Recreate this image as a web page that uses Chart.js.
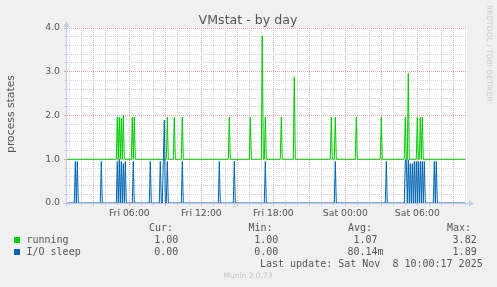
<!DOCTYPE html>
<html>
<head>
<meta charset="utf-8">
<script src="https://cdn.jsdelivr.net/npm/chart.js@4"></script>
<style>
  html, body { margin: 0; padding: 0; background: #f0f0f0; }
  canvas { display: block; }
</style>
</head>
<body>
<canvas id="vmstat" width="497" height="287"></canvas>
<script>
// x = minutes since Fri 00:00 (munin samples every 5 min)
const runningMinutes = [
  50,
  295, 300, 305, 310, 315, 320, 325, 330, 335,
  370, 375, 380, 385, 390,
  545, 550, 555, 580, 585, 590, 620, 625, 630,
  855, 860, 865, 960, 965, 970,
  1020, 1025, 1030, 1035, 1040, 1045,
  1115, 1120, 1125, 1180, 1185, 1190,
  1365, 1370, 1375, 1385, 1390, 1395,
  1490, 1495, 1500, 1615, 1620, 1625,
  1735, 1740, 1745, 1750, 1755, 1760,
  1795, 1800, 1805, 1810, 1815, 1820, 1825, 1830,
  2040
];
const runningValues = [
  1,
  1, 1.96, 1, 1.96, 1, 1.93, 1, 2.0, 1,
  1, 1.96, 1, 1.96, 1,
  1, 1.96, 1, 1, 1.96, 1, 1, 1.96, 1,
  1, 1.96, 1, 1, 1.96, 1,
  1, 3.82, 1, 1, 1.96, 1,
  1, 1.96, 1, 1, 2.88, 1,
  1, 1.96, 1, 1, 1.96, 1,
  1, 1.96, 1, 1, 1.96, 1,
  1, 1.96, 1, 1, 2.96, 1,
  1, 1.96, 1, 1, 1.96, 1, 1.96, 1,
  1
];

const ioMinutes = [
  50,
  85, 90, 95, 100, 105,
  215, 220, 225,
  295, 300, 305, 310, 315, 320, 325, 330, 335, 340, 345,
  375, 380, 385, 460, 465, 470,
  510, 515, 520, 525, 530, 535, 540, 545, 550, 555,
  620, 625, 630, 805, 810, 815, 880, 885, 890,
  1035, 1040, 1045, 1385, 1390, 1395, 1640, 1645, 1650,
  1735, 1740, 1745, 1750, 1755, 1760, 1765, 1770, 1775, 1780,
  1785, 1790, 1795, 1800, 1805, 1810, 1815, 1820, 1825, 1830, 1835, 1840,
  1880, 1885, 1890, 1895, 1900,
  2040
];
const ioValues = [
  0,
  0, 0.95, 0, 0.95, 0,
  0, 0.95, 0,
  0, 0.95, 0, 1.0, 0, 0.95, 0, 0.9, 0, 0.95, 0,
  0, 0.95, 0, 0, 0.95, 0,
  0, 0.95, 0, 0, 0.95, 1.89, 0, 0, 0.95, 0,
  0, 0.95, 0, 0, 0.95, 0, 0, 0.95, 0,
  0, 0.95, 0, 0, 0.95, 0, 0, 0.95, 0,
  0, 0.97, 0.99, 0, 0.99, 0, 0.9, 0, 0.9, 0,
  0.95, 0, 0.95, 0, 0.95, 0, 0.95, 0, 0.95, 0, 0.95, 0,
  0, 0.95, 0, 0.95, 0,
  0
];

const labelMinutes = [360, 720, 1080, 1440, 1800];
const labelTexts = ["Fri 06:00", "Fri 12:00", "Fri 18:00", "Sat 00:00", "Sat 06:00"];

const seriesNames = ["running", "I/O sleep"];
const seriesColors = ["#00cc00", "#0066b3"];
const curValues = ["1.00 ", "0.00 "];
const minValues = ["1.00 ", "0.00 "];
const avgValues = ["1.07 ", "80.14m"];
const maxValues = ["3.82 ", "1.89 "];

const gridMinor = "rgb(214,214,214)";
const gridMajor = "rgb(236,168,168)";
const axisColor = "rgba(185,195,238,0.85)";
const textColor = "#555555";

function toPoints(xs, ys) {
  return xs.map((x, i) => ({ x: x, y: ys[i] }));
}

function isWhole(v) {
  return Math.abs(v - Math.round(v)) < 1e-6;
}

const muninDecor = {
  id: "muninDecor",
  beforeDraw(chart) {
    const { ctx, chartArea: a } = chart;
    ctx.save();
    ctx.fillStyle = "#ffffff";
    ctx.fillRect(a.left, a.top, a.right - a.left, a.bottom - a.top);
    ctx.restore();
  },
  afterDatasetsDraw(chart) {
    const { ctx, chartArea: a } = chart;
    const lx = Math.round(a.left) - 0.5;
    const by = Math.round(a.bottom) + 0.5;
    ctx.save();
    ctx.strokeStyle = axisColor;
    ctx.fillStyle = axisColor;
    ctx.lineWidth = 1;
    ctx.beginPath();
    ctx.moveTo(lx, a.bottom + 4);
    ctx.lineTo(lx, a.top - 1);
    ctx.moveTo(a.left - 4, by);
    ctx.lineTo(a.right + 2, by);
    ctx.stroke();
    // arrows
    ctx.beginPath();
    ctx.moveTo(lx - 3, a.top - 1);
    ctx.lineTo(lx + 3, a.top - 1);
    ctx.lineTo(lx, a.top - 7);
    ctx.closePath();
    ctx.fill();
    ctx.beginPath();
    ctx.moveTo(a.right + 2, by - 3);
    ctx.lineTo(a.right + 2, by + 3);
    ctx.lineTo(a.right + 7, by);
    ctx.closePath();
    ctx.fill();
    ctx.restore();
  },
  afterDraw(chart) {
    const ctx = chart.ctx;
    ctx.save();
    ctx.fillStyle = textColor;

    // title
    ctx.font = "12.6px 'DejaVu Sans'";
    ctx.textAlign = "center";
    ctx.textBaseline = "alphabetic";
    ctx.fillText("VMstat - by day", 248, 23.5);

    // y axis title
    ctx.save();
    ctx.translate(11, 114);
    ctx.rotate(-Math.PI / 2);
    ctx.font = "10.8px 'DejaVu Sans'";
    ctx.textBaseline = "middle";
    ctx.fillText("process states", 0, 0);
    ctx.restore();

    // rrdtool credit on the right
    ctx.save();
    ctx.translate(488.5, 5);
    ctx.rotate(Math.PI / 2);
    ctx.font = "7.5px 'DejaVu Sans'";
    ctx.fillStyle = "#cdcdcd";
    ctx.textAlign = "left";
    ctx.textBaseline = "middle";
    ctx.fillText("RRDTOOL / TOBI OETIKER", 0, 0);
    ctx.restore();

    // legend table
    ctx.font = "10px 'DejaVu Sans Mono'";
    ctx.textBaseline = "middle";
    ctx.textAlign = "left";
    ctx.fillText("Cur:", 149, 228);
    ctx.fillText("Min:", 248.5, 228);
    ctx.fillText("Avg:", 348, 228);
    ctx.fillText("Max:", 447, 228);

    const rowY = [240, 252];
    seriesNames.forEach((name, i) => {
      ctx.fillStyle = seriesColors[i];
      ctx.fillRect(14, rowY[i] - 3, 6, 6);
      ctx.fillStyle = textColor;
      ctx.textAlign = "left";
      ctx.fillText(name, 26.5, rowY[i]);
      ctx.textAlign = "right";
      ctx.fillText(curValues[i], 184.3, rowY[i]);
      ctx.fillText(minValues[i], 284.3, rowY[i]);
      ctx.fillText(avgValues[i], 383.5, rowY[i]);
      ctx.fillText(maxValues[i], 482.7, rowY[i]);
    });

    ctx.textAlign = "right";
    ctx.fillText("Last update: Sat Nov  8 10:00:17 2025", 482.7, 264);

    ctx.font = "7.5px 'DejaVu Sans'";
    ctx.fillStyle = "#c8c8c8";
    ctx.textAlign = "center";
    ctx.fillText("Munin 2.0.73", 248, 276);
    ctx.restore();
  }
};

new Chart(document.getElementById("vmstat"), {
  type: "line",
  data: {
    datasets: [
      {
        label: seriesNames[0],
        data: toPoints(runningMinutes, runningValues),
        borderColor: seriesColors[0],
        order: 2,
      },
      {
        label: seriesNames[1],
        data: toPoints(ioMinutes, ioValues),
        borderColor: seriesColors[1],
        order: 1,
      },
    ],
  },
  options: {
    responsive: false,
    animation: false,
    devicePixelRatio: 1,
    layout: { padding: { top: 28, right: 30, bottom: 64, left: 0 } },
    plugins: {
      legend: { display: false },
      tooltip: { enabled: false },
    },
    elements: {
      point: { radius: 0 },
      line: { borderWidth: 1, tension: 0, borderJoinStyle: "bevel", fill: false },
    },
    scales: {
      x: {
        type: "linear",
        min: 48.5,
        max: 2048.5,
        afterFit: (s) => { s.height = 20; },
        grid: {
          color: (c) => (c.tick && c.tick.value % 180 === 0 ? gridMajor : gridMinor),
          tickColor: (c) => (c.tick && c.tick.value % 180 === 0 ? gridMajor : gridMinor),
          tickLength: 3,
        },
        border: { display: false, dash: [1, 1] },
        ticks: {
          stepSize: 60,
          includeBounds: false,
          autoSkip: false,
          maxRotation: 0,
          padding: 2,
          color: textColor,
          font: { family: "DejaVu Sans", size: 9.3 },
          callback: (v) => {
            const i = labelMinutes.indexOf(v);
            return i >= 0 ? labelTexts[i] : "";
          },
        },
      },
      y: {
        min: 0,
        max: 4,
        afterFit: (s) => { s.width = 67; },
        grid: {
          color: (c) => (c.tick && isWhole(c.tick.value) ? gridMajor : gridMinor),
          tickColor: (c) => (c.tick && isWhole(c.tick.value) ? gridMajor : gridMinor),
          tickLength: 3,
        },
        border: { display: false, dash: [1, 1] },
        ticks: {
          stepSize: 0.2,
          autoSkip: false,
          padding: 4,
          color: textColor,
          font: { family: "DejaVu Sans", size: 9.3 },
          callback: (v) => (isWhole(v) ? v.toFixed(1) : ""),
        },
      },
    },
  },
  plugins: [muninDecor],
});
</script>
</body>
</html>
